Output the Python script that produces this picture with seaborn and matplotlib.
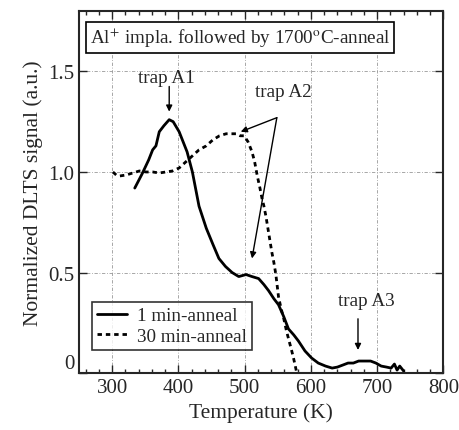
import numpy as np
import pandas as pd
import matplotlib
matplotlib.use('Agg')
import matplotlib.pyplot as plt
import seaborn as sns
from matplotlib.ticker import MultipleLocator

t_1min = [334, 345, 355, 361, 366, 371, 378, 386, 392, 401, 407, 413, 421, 431, 442, 452,
          461, 471, 481, 491, 502, 511, 521, 529, 536, 544, 551, 559, 566, 574, 581, 591,
          601, 611, 622, 632, 640, 648, 656, 664, 672, 682, 690, 698, 706, 714, 721, 726,
          730, 734, 740]
s_1min = [0.92, 0.99, 1.06, 1.11, 1.13, 1.20, 1.23, 1.26, 1.25, 1.20, 1.15, 1.10, 1.00, 0.83,
          0.72, 0.64, 0.57, 0.53, 0.50, 0.48, 0.49, 0.48, 0.47, 0.44, 0.41, 0.37, 0.34, 0.28,
          0.22, 0.19, 0.16, 0.11, 0.075, 0.05, 0.035, 0.025, 0.03, 0.04, 0.05, 0.05, 0.06,
          0.06, 0.06, 0.05, 0.035, 0.03, 0.025, 0.045, 0.015, 0.035, 0.01]

t_30min = [301, 306, 311, 321, 331, 341, 351, 361, 371, 381, 391, 401, 411, 421, 431, 442,
           452, 462, 472, 480, 487, 493, 499, 505, 511, 515, 519, 523, 526, 529, 532, 536,
           541, 544, 547, 551, 555, 559, 563, 567, 571, 574, 578]
s_30min = [1.0, 0.985, 0.98, 0.985, 0.995, 1.005, 1.0, 1.0, 0.995, 1.0, 1.005, 1.02, 1.05,
           1.08, 1.11, 1.13, 1.16, 1.18, 1.19, 1.19, 1.19, 1.18, 1.18, 1.15, 1.10, 1.05, 0.98,
           0.92, 0.87, 0.83, 0.78, 0.70, 0.60, 0.55, 0.49, 0.38, 0.32, 0.27, 0.21, 0.16, 0.11,
           0.07, 0.01]

x_ticks = [300, 400, 500, 600, 700, 800]
y_ticks = [0, 0.5, 1.0, 1.5]

df1 = pd.DataFrame({'T': t_1min, 'S': s_1min})
df30 = pd.DataFrame({'T': t_30min, 'S': s_30min})

sns.set_style('ticks')
plt.rcParams['font.family'] = ['Liberation Serif', 'DejaVu Serif']
plt.rcParams['mathtext.fontset'] = 'stix'

fig = plt.figure(figsize=(4.6, 4.31), dpi=100)
ax = fig.add_axes([0.172, 0.132, 0.792, 0.840])

sns.lineplot(data=df1, x='T', y='S', color='k', lw=2.0, ax=ax, label='1 min-anneal')
sns.lineplot(data=df30, x='T', y='S', color='k', lw=2.0, ax=ax, label='30 min-anneal',
             linestyle=(0, (1.6, 1.4)))

ax.set_xlim(250, 800)
ax.set_ylim(0, 1.8)
ax.set_xticks(x_ticks)
ax.set_yticks(y_ticks)
ax.set_yticklabels(['0', '0.5', '1.0', '1.5'])
ax.xaxis.set_minor_locator(MultipleLocator(20))
ax.tick_params(direction='in', which='both', top=True, right=True, labelsize=15)
ax.tick_params(which='major', length=6, width=1)
ax.tick_params(which='minor', length=3, width=1)
ax.yaxis.get_majorticklabels()[0].set_va('bottom')
for sp in ax.spines.values():
    sp.set_linewidth(1.5)

# dash-dot grid, only inside
for xv in [300, 400, 500, 600, 700]:
    ax.axvline(xv, color='#999999', lw=0.6, ls=(0, (4, 2, 1, 2)), zorder=0)
for yv in [0.5, 1.0, 1.5]:
    ax.axhline(yv, color='#999999', lw=0.6, ls=(0, (4, 2, 1, 2)), zorder=0)

ax.set_xlabel('Temperature (K)', fontsize=15.5)
ax.set_ylabel('Normalized DLTS signal (a.u.)', fontsize=15.5)

ax.text(493, 1.668, r'Al$^{+}$ impla. followed by 1700$^{\rm o}$C-anneal', fontsize=13.8,
        ha='center', va='center',
        bbox=dict(boxstyle='square,pad=0.2', fc='white', ec='k', lw=1.2))

arw = dict(arrowstyle='-|>', color='k', lw=1.0, mutation_scale=9, shrinkA=0, shrinkB=0)
ax.text(382, 1.47, 'trap A1', fontsize=13.8, ha='center', va='center')
ax.annotate('', xy=(386, 1.30), xytext=(386, 1.425), arrowprops=arw)
ax.text(559, 1.40, 'trap A2', fontsize=13.8, ha='center', va='center')
ax.annotate('', xy=(494, 1.20), xytext=(548.5, 1.27), arrowprops=arw)
ax.annotate('', xy=(511, 0.57), xytext=(548.5, 1.27), arrowprops=arw)
ax.text(683, 0.36, 'trap A3', fontsize=13.8, ha='center', va='center')
ax.annotate('', xy=(671, 0.115), xytext=(671, 0.27), arrowprops=arw)

leg = ax.legend(loc='lower left', bbox_to_anchor=(0.035, 0.065), fontsize=13.8,
                frameon=True, fancybox=False, edgecolor='k', handlelength=1.6,
                handletextpad=0.5, borderpad=0.25, labelspacing=0.15, borderaxespad=0)
leg.get_frame().set_linewidth(1.2)

fig.savefig('out.png', dpi=100)
